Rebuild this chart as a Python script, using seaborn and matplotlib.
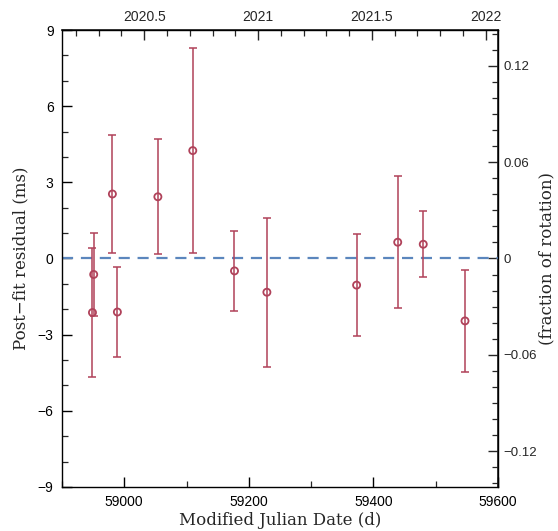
import numpy as np
import pandas as pd
import matplotlib
matplotlib.use("Agg")
import matplotlib.pyplot as plt
from matplotlib.ticker import MultipleLocator, FixedLocator, FuncFormatter
import seaborn as sns

# ---- data ----
mjd = [58949, 58951, 58981, 58989, 59054, 59110, 59177, 59229, 59373, 59439, 59480, 59547]
residual_ms = [-2.13, -0.63, 2.54, -2.11, 2.43, 4.25, -0.49, -1.33, -1.05, 0.64, 0.56, -2.46]
error_ms = [2.55, 1.64, 2.33, 1.77, 2.26, 4.03, 1.59, 2.93, 2.02, 2.61, 1.30, 2.02]
period_ms = 63.3
x_ticks = [59000, 59200, 59400, 59600]
y_ticks = [-9, -6, -3, 0, 3, 6, 9]
year_ticks = [2020.5, 2021, 2021.5, 2022]
year_labels = ["2020.5", "2021", "2021.5", "2022"]
frac_ticks = [-0.12, -0.06, 0, 0.06, 0.12]
frac_labels = ["\u22120.12", "\u22120.06", "0", "0.06", "0.12"]

df = pd.DataFrame({"mjd": mjd, "res": residual_ms, "err": error_ms})

sns.set_theme(style="ticks")
plt.rcParams["font.family"] = ["Liberation Sans", "DejaVu Sans"]
plt.rcParams["axes.unicode_minus"] = True

fig = plt.figure(figsize=(5.58, 5.31), dpi=100)
ax = fig.add_axes([0.111, 0.083, 0.7815, 0.8605])

red = "#b0425a"
ax.axhline(0, color="#5b86bd", lw=1.6, ls=(0, (5, 3.5)), zorder=1)
ax.errorbar(df["mjd"], df["res"], yerr=df["err"], fmt="none", ecolor=red,
            elinewidth=1.3, capsize=3, capthick=1.3, alpha=0.85, zorder=2)
sns.scatterplot(data=df, x="mjd", y="res", ax=ax, marker="o", s=26,
                facecolor="none", edgecolor=red, linewidth=1.3, zorder=3, legend=False)

ax.set_xlim(58900, 59600)
ax.set_ylim(-9, 9)
ax.xaxis.set_major_locator(FixedLocator(x_ticks))
ax.xaxis.set_minor_locator(MultipleLocator(100))
ax.yaxis.set_major_locator(FixedLocator(y_ticks))
ax.yaxis.set_minor_locator(MultipleLocator(1))
ax.yaxis.set_major_formatter(FuncFormatter(lambda v, p: f"{int(v)}".replace("-", "\u2212")))

for sp in ax.spines.values():
    sp.set_visible(True)
    sp.set_color("black")
    sp.set_linewidth(1.0)

ax.tick_params(axis="both", which="major", direction="in", length=7, width=1.0,
               labelsize=10, colors="black")
ax.tick_params(axis="both", which="minor", direction="in", length=4, width=0.9)
ax.tick_params(axis="x", pad=6)
ax.tick_params(axis="y", pad=6)

serif = ["DejaVu Serif"]
ax.set_xlabel("Modified Julian Date (d)", fontsize=12, family=serif, labelpad=2)
ax.set_ylabel("Post\u2212fit residual (ms)", fontsize=12, family=serif, labelpad=6)

# top: decimal year
def mjd2yr(m):
    return 2000 + (np.asarray(m) - 51544.5) / 365.25

def yr2mjd(y):
    return (np.asarray(y) - 2000) * 365.25 + 51544.5

top = ax.secondary_xaxis("top", functions=(mjd2yr, yr2mjd))
top.xaxis.set_major_locator(FixedLocator(year_ticks))
top.xaxis.set_minor_locator(MultipleLocator(0.1))
top.set_xticklabels(year_labels)
top.tick_params(which="major", direction="in", length=7, width=1.0, labelsize=10, pad=4)
top.tick_params(which="minor", direction="in", length=4, width=0.9)

# right: fraction of rotation
right = ax.secondary_yaxis("right", functions=(lambda v: np.asarray(v) / period_ms,
                                               lambda f: np.asarray(f) * period_ms))
right.yaxis.set_major_locator(FixedLocator(frac_ticks))
right.yaxis.set_minor_locator(MultipleLocator(0.01))
right.set_yticklabels(frac_labels)
right.tick_params(which="major", direction="in", length=7, width=1.0, labelsize=9.5, pad=4)
right.tick_params(which="minor", direction="in", length=4, width=0.9)
right.set_ylabel("(fraction of rotation)", fontsize=12, family=serif, labelpad=1)

fig.savefig("out.png", dpi=100)
